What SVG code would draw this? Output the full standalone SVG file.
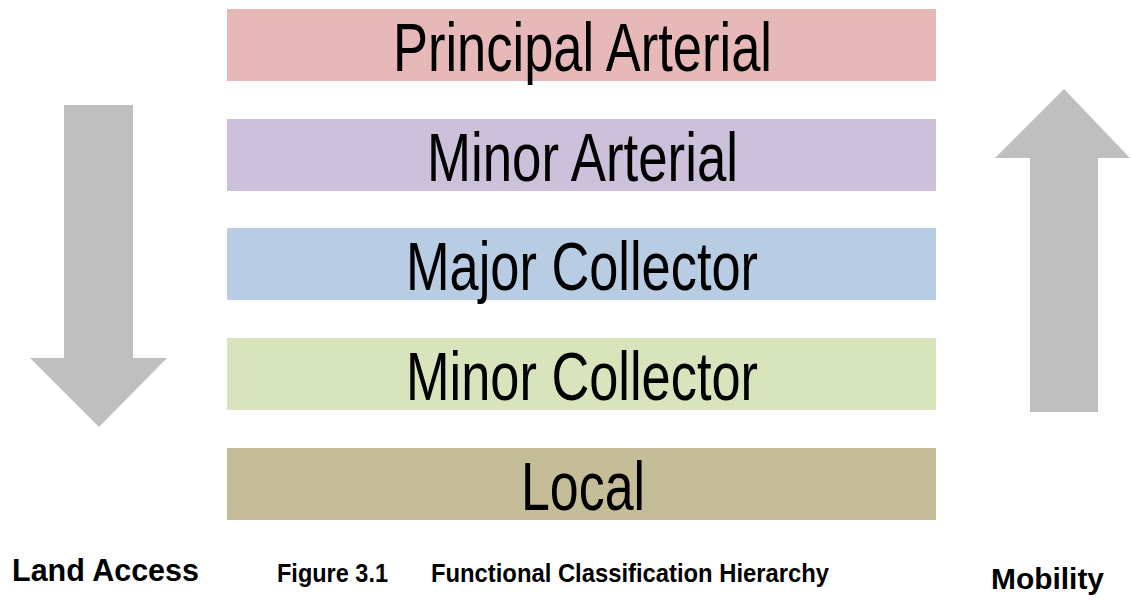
<svg xmlns="http://www.w3.org/2000/svg" width="1130" height="600" viewBox="0 0 1130 600">
<style>
.lbl{font-family:"Liberation Sans Narrow","Arial Narrow","Liberation Sans",sans-serif;font-size:68px;fill:#000;text-anchor:middle}
.cap{font-family:"Liberation Sans Narrow","Arial Narrow","Liberation Sans",sans-serif;font-weight:bold;fill:#000}
.arrow{fill:#BFBFBF}
</style>
<rect width="1130" height="600" fill="#fff"/>
<g id="principal-arterial">
<rect x="227" y="9" width="709" height="72" fill="#E6B8B7"/>
<text class="lbl" x="582.5" y="71" textLength="379" lengthAdjust="spacingAndGlyphs">Principal Arterial</text>
</g>
<g id="minor-arterial">
<rect x="227" y="119" width="709" height="72" fill="#CCC0DA"/>
<text class="lbl" x="582.5" y="181" textLength="311" lengthAdjust="spacingAndGlyphs">Minor Arterial</text>
</g>
<g id="major-collector">
<rect x="227" y="228" width="709" height="72" fill="#B8CCE4"/>
<text class="lbl" x="582" y="290" textLength="352" lengthAdjust="spacingAndGlyphs">Major Collector</text>
</g>
<g id="minor-collector">
<rect x="227" y="338" width="709" height="72" fill="#D8E4BC"/>
<text class="lbl" x="582" y="400" textLength="352" lengthAdjust="spacingAndGlyphs">Minor Collector</text>
</g>
<g id="local">
<rect x="227" y="448" width="709" height="72" fill="#C4BD97"/>
<text class="lbl" x="583" y="510" textLength="124" lengthAdjust="spacingAndGlyphs">Local</text>
</g>
<g id="land-access-arrow">
<polygon class="arrow" points="64,105 133,105 133,358 167,358 99,427 30,358 64,358"/>
</g>
<g id="mobility-arrow">
<polygon class="arrow" points="1030,412 1098,412 1098,158 1130,158 1064,89 995,158 1030,158"/>
</g>
<g id="connectors"></g>
<text class="cap" x="12" y="581" font-size="32" textLength="187" lengthAdjust="spacingAndGlyphs">Land Access</text>
<text class="cap" x="277" y="582" font-size="25" textLength="111" lengthAdjust="spacingAndGlyphs">Figure 3.1</text>
<text class="cap" x="431" y="582" font-size="25" textLength="398" lengthAdjust="spacingAndGlyphs">Functional Classification Hierarchy</text>
<text class="cap" x="991" y="589" font-size="30" textLength="113" lengthAdjust="spacingAndGlyphs">Mobility</text>
</svg>
